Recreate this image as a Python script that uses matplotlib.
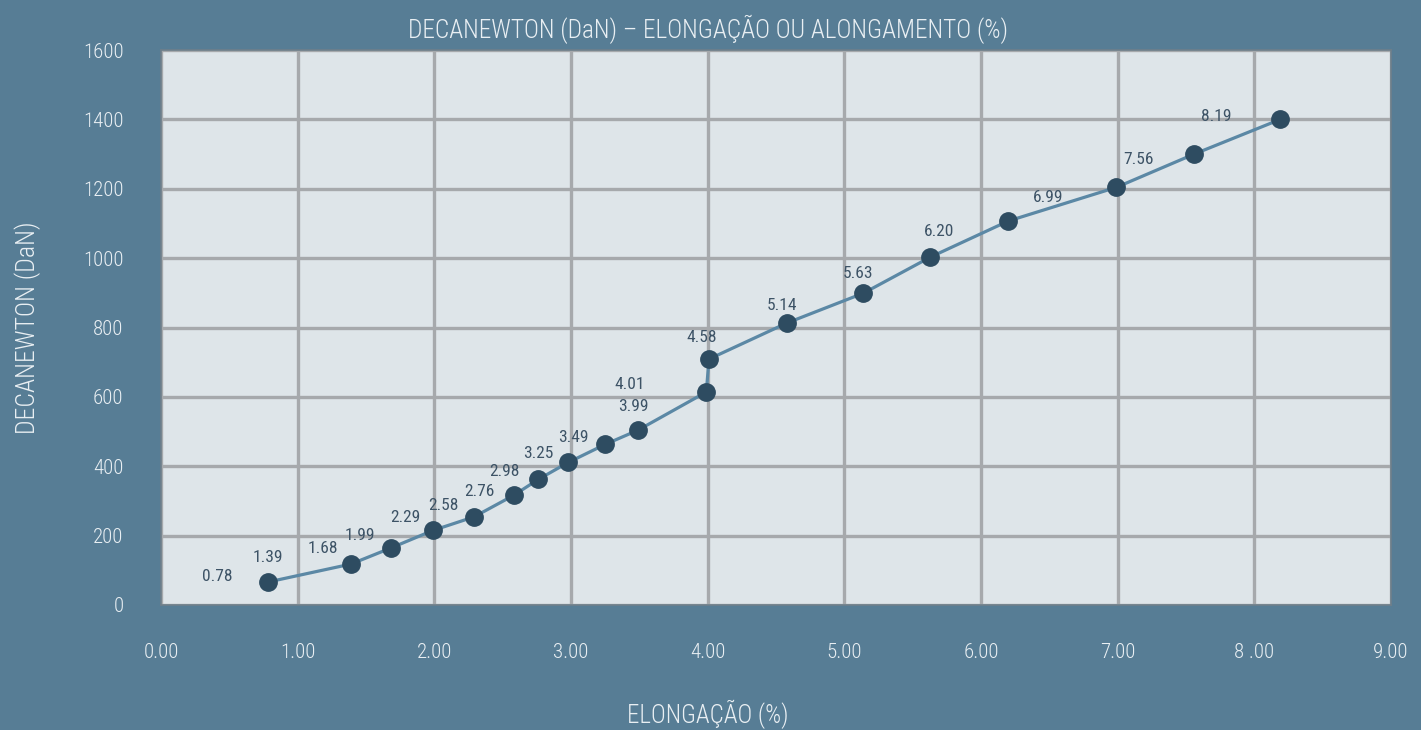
import matplotlib
matplotlib.use("Agg")
import matplotlib.pyplot as plt
from matplotlib import font_manager as fm

elong = [0.78, 1.39, 1.68, 1.99, 2.29, 2.58, 2.76, 2.98, 3.25, 3.49, 3.99, 4.01,
         4.58, 5.14, 5.63, 6.20, 6.99, 7.56, 8.19]
force = [66, 118, 164, 215, 254, 316, 362, 411, 463, 504, 614, 709,
         813, 899, 1003, 1107, 1204, 1300, 1400]
point_labels = ["0.78", "1.39", "1.68", "1.99", "2.29", "2.58", "2.76", "2.98", "3.25",
                "3.49", "3.99", "4.01", "4.58", "5.14", "5.63", "6.20", "6.99", "7.56", "8.19"]
x_ticks = [0, 1, 2, 3, 4, 5, 6, 7, 8, 9]
x_tick_labels = ["0.00", "1.00", "2.00", "3.00", "4.00", "5.00", "6.00", "7.00", "8 .00", "9.00"]
y_ticks = [0, 200, 400, 600, 800, 1000, 1200, 1400, 1600]

# label offsets (pixels) relative to each point — style only
label_dx = [-50, -83, -68, -73, -69, -70, -59, -64, -67, -65, -73, -79,
            -85, -81, -72, -69, -68, -56, -64]
label_dy = [6, 7, 0, -5, -1, -10, -12, -9, -9, -7, -14, -25,
            -15, -12, -16, -10, -10, -5, 3]

names = {f.name for f in fm.fontManager.ttflist}
stretch = 'normal'
fam = None
for cand in ["Roboto Condensed", "Open Sans Condensed", "Liberation Sans Narrow",
             "Noto Sans Condensed"]:
    if cand in names:
        fam = cand
        break
if fam is None:
    fam = "DejaVu Sans"
    if any(f.name == "DejaVu Sans" and f.stretch == 'condensed' for f in fm.fontManager.ttflist):
        stretch = 'condensed'
plt.rcParams['font.family'] = [fam, 'DejaVu Sans']
plt.rcParams['font.stretch'] = stretch

BG = "#577d95"
PLOT_BG = "#dee5e9"
GRID = "#a6a9ac"
LINE = "#5b88a5"
MARK = "#2e4c61"
TXT = "#e9eff3"
LBL = "#3d5366"

fig = plt.figure(figsize=(14.21, 7.30), dpi=100, facecolor=BG)
ax = fig.add_axes([161/1421, 125/730, 1230/1421, 555/730])
ax.set_facecolor(PLOT_BG)
ax.set_xlim(0, 9)
ax.set_ylim(0, 1600)
ax.set_xticks(x_ticks)
ax.set_xticklabels(x_tick_labels)
ax.set_yticks(y_ticks)
ax.grid(True, color=GRID, linewidth=2.4, zorder=1)
ax.set_axisbelow(True)
for s in ax.spines.values():
    s.set_color("#6e7f8b")
    s.set_linewidth(1.2)
ax.tick_params(length=0, colors=TXT, labelsize=15)
ax.tick_params(axis='x', pad=27)
ax.tick_params(axis='y', pad=27)
for lab in ax.get_xticklabels() + ax.get_yticklabels():
    lab.set_fontweight('light')

ax.plot(elong, force, color=LINE, linewidth=2.3, zorder=3)
ax.plot(elong, force, linestyle='none', marker='o', markersize=12.5,
        markerfacecolor=MARK, markeredgecolor=MARK, zorder=4)
for x, y, t, dx, dy in zip(elong, force, point_labels, label_dx, label_dy):
    ax.annotate(t, (x, y), xytext=(dx, dy), textcoords='offset pixels',
                ha='center', va='center', color=LBL, fontsize=12.5, zorder=5)

fig.text(708/1421, 1 - 29/730, "DECANEWTON (DaN) – ELONGAÇÃO OU ALONGAMENTO (%)",
         color=TXT, fontsize=18.3, fontweight='light', ha='center', va='center')
ax.set_xlabel("ELONGAÇÃO (%)", color=TXT, fontsize=18, va='center', fontweight='light')
ax.xaxis.set_label_coords((708 - 161) / 1230, -(714 - 605) / 555)
ax.set_ylabel("DECANEWTON (DaN)", color=TXT, fontsize=18.5, va='center', fontweight='light')
ax.yaxis.set_label_coords(-(161 - 28) / 1230, 0.5)

fig.savefig("out.png", dpi=100, facecolor=BG)
